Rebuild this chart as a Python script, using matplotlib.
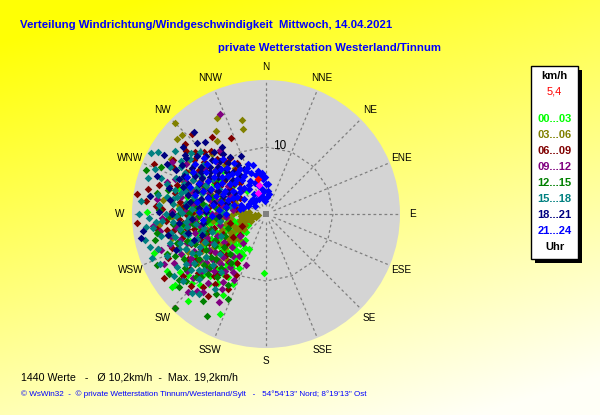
import numpy as np
import matplotlib
matplotlib.use('Agg')
import matplotlib.pyplot as plt
from matplotlib.patches import Rectangle

W, H = 600, 415

# --- data: (direction deg, speed km/h) per hour group ---
h00 = [(271,17.8),(251,17.7),(240,17.1),(232,17.8),(222,17.5),(208,13.7),(182,8.8),(213,8.7),
       (206,5.8),(213,6.8),(205,16.4),(232,17.3),
       (210,7.5),(215,8),(220,7),(225,6.5),(230,6),(235,5.5),(240,5),(245,4.5),(250,4),(255,4.5),
       (260,5),(265,5.5),(270,6),(218,9.5),(224,10),(230,9),(236,8.5),(242,8),(248,7.5),(254,7),
       (260,7.5),(266,8),(272,8.5),(278,9),(284,8),(290,7),(296,6),(228,11.5),(234,11),(240,10.5),
       (246,10),(252,9.5),(258,10),(264,10.5),(270,11),(276,11.5),(282,12),(288,11),(294,10),
       (300,9),(226,12.8),(238,12.5),(250,12),(262,12.5),(274,13),(286,13.5),(244,14),(256,14.5),
       (268,14.5),(280,15),(232,14.8),(216,11),(222,12.5),(212,9.5),(227,4),(238,3.2),(250,3),
       (262,3.5),(274,4.5),(286,5),(300,5.5),(310,6.5),(305,8.5),(315,9),(320,4.5),(236,15.5),
       (248,16),(260,16.5),
       (212,6),(216,7),(220,8),(224,9),(228,10),(232,7),(236,8),(240,9),(244,6),(248,6.5),
       (252,8),(256,9.5),(260,8.5),(264,7),(218,5),(226,5.5),(234,4.5),(242,5.5),(250,5),(258,6),
       (222,11),(230,8.5),(238,10),(246,9),(254,10.5),(262,9.5),(214,9),(228,7),(236,6),
       (244,10.5),(252,6.5),(260,10),(266,6.5),(270,9),(275,10),
       (207,9),(211,11),(215,12.5),(219,13.5),(223,14.5),(209,7),(217,10),(225,8),(229,13),
       (233,12),(221,6),(205,11.5),(227,15)]
h03 = [(315,19.3),(333,16.1),(346,14.5),(345,13.1),(329,14.4),(313,17.2),(310,17.4),(326,13.2),
       (326,8.3),(300,16.4),(318,12),(305,14),(297,11),
       (262,1.2),(258,2),(255,2.8),(250,3.5),(246,4.3),(243,5),(240,5.8),(237,6.5),(233,7.3),
       (265,1.6),(268,2.4),(272,3.2),(260,3),(254,4),(248,5),(244,6),(240,7),(236,8),(275,4),
       (270,5),(262,5.5),(256,6.2),(250,7),(246,7.8),(242,8.5),(238,9.2),(232,9.5),(280,5),
       (285,6.5),(278,7),(270,7.5),(262,8),(256,9),(250,9.5),(245,10.5),(240,11),(230,8),(226,7),
       (222,9),(280,10),(272,10.5),(266,11),(258,12),(250,12.5),(290,8.5),(295,7.5),(285,12),
       (276,13),(268,14),(300,10),(265,6.8),(253,5.5),(247,2.5),(241,3.5),
       (235,4),(239,4.7),(228,5.5),(232,6.2),(252,1.5),(258,3.8),(266,3.8),(276,2.5),(282,3.5),
       (288,4.5),(294,5),(225,10),(229,11.5),(234,12.5),(244,13),(256,14.5),(264,16),(278,15.5),
       (292,13.5),(305,11.5),(312,10),(320,9.5),(300,13)]
h06 = [(317,16.3),(311,16),(308,15.2),(330,8.8),(294,18.3),(279,19.5),(282,18),(266,19.3),
       (238,17.9),(221,14.4),(206,10.1),(219,11.5),(224,19.5),(335,12.5),(325,14),
       (230,9),(236,10),(242,11),(248,12),(254,13),(260,14),(266,15),(272,14),(278,13),(284,12),
       (290,11),(296,10),(302,9),(308,8),(314,7),(320,6),(235,6),(245,7),(255,8),(265,9),(275,10),
       (285,9),(295,8),(305,6.5),(315,5),(240,13.5),(250,15),(262,16.5),(274,16.5),(286,15),
       (298,13.5),(310,12),(322,10),(228,12),(234,14),(246,16),(258,11),(270,12),(282,7),
       (292,5.5),(302,4.5),(312,9.5),(318,11),(224,8.5),(232,5),(244,4),(256,5.5),(268,6),
       (280,4.5),(288,14),(300,16),(306,11),(226,15.5),(216,13),(252,17),(276,18),(264,12.5),
       (241,8.5),
       (243,9.5),(249,10.5),(253,9),(259,12),(263,10.5),(267,13),(271,11),(275,12.5),(279,11),
       (283,14),(287,12.5),(291,13),(295,12),(299,11),(303,12),(307,13.5),(311,14),(315,13),
       (319,12.5),(323,11.5),(327,10),(297,15.5),(285,16.5),(273,15.5),(261,15),(249,14),
       (237,12.5),(229,10.5),(233,7.5),(261,7),(277,8.5),(289,7),(301,8),(313,6.5),(325,8),
       (207,12.5),(211,8.5),(215,15),(220,12),(225,11),(229,13.5),(233,15.5),(213,11),(218,9)]
h09 = [(335,16.4),(324,11.8),(201,8.2),(216,10.5),(218,5.5),(212,12),(208,14.8),(220,13.5),
       (225,9),(230,10.5),(235,12),(240,13),(245,14),(250,12.5),(255,11),(260,10),(265,9),
       (270,8),(275,7),(280,6.5),(285,7.5),(290,9),(295,10.5),(300,12),(222,11.5),(228,13),
       (234,14.5),(242,15.5),(252,15),(262,13.5),(272,12),(282,11),(292,13),(302,14),(226,7),
       (236,7.5),(246,8),(256,7),(266,6),(276,5),(286,5),(296,6),(306,7),(316,8),(238,10),
       (248,9.5),(258,13),(268,15.5),(278,16.5),(288,15.5),(310,10),(320,9),(232,16),(244,17),
       (217,9),(222,15.5),(213,7.5),(230,5),(264,17),
       (231,11.5),(237,13.5),(243,12),(249,11),(253,13.5),(257,14.5),(263,11.5),(267,10.5),
       (273,9.5),(277,11),(281,13),(287,11.5),(293,10),(297,8),(303,9.5),(307,11.5),(313,12.5),
       (317,10.5),(283,8.5),(271,14),(261,16),(251,16.5),(227,10),(241,9),(255,8.5),(269,7.5),
       (291,14.5),(299,16),
       (206,11),(210,13),(214,9.5),(218,8),(222,10),(226,12),(229,14.5),(233,9.5),(210,10),
       (219,15),(225,16.5)]
h12 = [(294,17.1),(245,18),(233,16.3),(204,13.9),(224,19.5),(290,19),(210,17.5),
       (228,10),(234,11),(240,12),(246,13),(252,14),(258,15),(264,14),(270,13),(276,12),(282,11),
       (288,10),(294,9),(232,8),(238,9),(244,10),(250,11),(256,12),(262,11),(268,10),(274,9),
       (280,8),(286,7),(226,13.5),(236,14.5),(248,16),(260,16.5),(272,16),(284,15),(296,13.5),
       (300,11),(306,9),(312,8),(242,7),(254,8.5),(266,7.5),(278,6),(290,12.5),(230,15.5),
       (218,12),(222,8),(250,6),(262,9),(238,17),
       (231,12),(235,13),(241,14),(247,11.5),(251,12.5),(255,10),(259,13),(263,12.5),(267,11),
       (271,11.5),(275,10.5),(279,9.5),(283,10),(287,8.5),(291,11),(295,10),(299,12.5),(243,8.5),
       (253,9.5),(265,8.5),(277,7.5),(239,10.5),(227,11.5),(245,15),(257,17),(269,14.5),(281,16.5),
       (208,12),(212,14),(216,16),(220,10.5),(224,12.5),(228,14),(232,10.5),(236,12),(215,9),
       (230,17)]
h15 = [(298,19.4),(300,18.6),(313,13.5),(287,18.4),(280,16.4),(254,18),(249,18.3),(223,16.2),
       (270,19),(276,18.7),(292,17.8),(305,16.5),(309,14.5),
       (245,10),(250,11),(255,12),(260,13),(265,14),(270,15),(275,16),(280,15),(285,14),(290,13),
       (295,12),(300,11),(248,14),(253,15),(258,16),(263,17),(268,17.5),(273,13),(278,12),
       (283,11),(288,10),(293,9),(298,8),(242,12.5),(247,16),(252,8.5),(257,9.5),(262,10.5),
       (267,11.5),(272,10),(277,9),(282,8),(287,15.5),(292,14.5),(297,13.5),(302,15),(238,14),
       (234,11),(240,9),(244,7.5),(256,14),(266,15.5),(276,14),(286,12.5),(296,16),(230,13),
       (236,16.5),(258,18.5),(262,7),(272,6.5),(282,5.5),(303,9.5),(308,12),(245,17.5),
       (251,13.5),(261,12),(271,12.5),(281,13.5),(291,11),(226,11),
       (243,11),(246,13),(249,12),(254,10),(256,12.5),(259,14.5),(264,12),(266,16.5),(269,13.5),
       (274,11),(279,14),(284,13),(289,12),(294,13.5),(299,14.5),(304,13),(301,11.5),(289,16.5),
       (279,17.5),(264,18),(252,17),(239,15.5),(233,14),(228,12.5),(296,10),(306,14),
       (214,13.5),(220,15.5),(226,14),(231,16),(236,13),(240,11.5),(218,11),(229,9)]
h18 = [(319,16.3),(316,14.8),(306,15),(320,14.1),(328,10),(337,9.4),(279,17.5),(289,17.2),
       (259,19),(262,18.5),(309,16),(300,17.5),
       (282,8),(286,9),(290,10),(294,11),(298,12),(302,13),(306,12),(310,11),(314,10),(318,9),
       (322,8),(326,7),(284,12),(288,13),(292,14),(296,15),(300,14.5),(304,10),(308,9),(312,8),
       (316,7),(320,12),(324,11),(280,10.5),(276,12),(272,9),(268,7),(278,14.5),(296,8),
       (300,6.5),(304,5.5),(286,6),(292,7),(310,13.5),(314,12.5),(330,8.5),(334,7.5),(266,11),
       (270,14),(262,9.5),(256,12),(252,10),(248,14.5),
       (283,10),(287,11),(291,12.5),(295,13.5),(299,11),(303,11.5),(307,10.5),(311,9.5),
       (315,11.5),(319,10.5),(323,9.5),(327,12),(305,14.5),(297,16.5),(285,15),(275,10),
       (279,11.5),(293,9),(301,8.5),(309,7),(317,8.5),(264,13),(258,15),(250,11.5),(271,16)]
h21 = [(300,3),(305,4),(310,5),(315,5.5),(320,5),(325,4.5),(330,5),(335,5.5),(340,5),(345,4.5),
       (350,4),(355,3.5),(300,5),(305,6),(310,7),(315,6.5),(320,6.8),(325,6.2),(330,6.5),(335,7),
       (340,6.5),(345,6),(350,5.8),(355,5.2),(290,4),(295,5.5),(300,7),(305,8),(310,8.5),(315,8),
       (320,7.8),(325,7.5),(330,7.8),(337,7.4),(285,5),(290,6),(295,7),(300,8.5),(305,9.5),
       (310,10),(315,9.5),(320,9),(285,7),(290,8),(295,9),(300,10),(305,11),(310,11.5),(295,11),
       (290,10),(285,9),(280,8),(280,6),(275,7),(275,9),(280,10.5),(285,11),(290,12),(300,12.5),
       (305,13),(312,12.5),(295,13),(310,3),(320,3),(330,3.5),(340,3),(350,2.5),(355,2),(5,2.5),
       (10,3),(5,3.5),(360,4.5),(345,3),(335,2.5),(325,2.5),(315,2.5),(305,2),(295,3),(285,3.5),
       (280,4),(350,6.5),(355,6.2),(358,5.5),(4,4.5),(340,8),(345,7.5),(328,9),(322,10.5),
       (316,11),(270,6),(268,8),(272,10),(265,9.5)]
recent = [(346,4.4),(339,3.4)]
current = (348, 5.4)

groups = ['00...03','03...06','06...09','09...12','12...15','15...18','18...21','21...24']
colors = ['#00ff00','#808000','#800000','#800080','#008000','#008080','#000080','#0000ff']
series = [h00, h03, h06, h09, h12, h15, h18, h21]
dirs16 = ['N','NNE','NE','ENE','E','ESE','SE','SSE','S','SSW','SW','WSW','W','WNW','NW','NNW']

n_values = 1440
mean_speed = '10,2'
max_speed = '19,2'
cur_speed = '5,4'

def fx(x):
    return x / W

def fy(y):
    return 1 - y / H

fig = plt.figure(figsize=(6, 4.15), dpi=100)
plt.rcParams['font.family'] = ['Liberation Sans', 'DejaVu Sans']

# yellow gradient background
bg = fig.add_axes([0, 0, 1, 1])
yy, xx = np.mgrid[0:1:200j, 0:1:300j]
t = np.clip(0.8 * yy + 0.35 * xx - 0.08, 0, 1)
img = np.dstack([np.ones_like(t), np.ones_like(t), 0.02 + 0.95 * t])
bg.imshow(img, extent=[0, 1, 0, 1], aspect='auto', origin='upper')
bg.set_xlim(0, 1)
bg.set_ylim(0, 1)
bg.axis('off')

# polar chart
cx, cy, rad = 266, 214, 134
ax = fig.add_axes([fx(cx - rad), fy(cy + rad), 2 * rad / W, 2 * rad / H], projection='polar')
ax.set_theta_zero_location('N')
ax.set_theta_direction(-1)
ax.set_facecolor('#d4d4d4')
ax.set_ylim(0, 20)
ax.set_xticks([])
ax.set_yticks([])
ax.grid(False)
ax.spines['polar'].set_visible(False)

dash = (0, (2.2, 2.2))
angs = np.radians(np.arange(16) * 22.5)
for a in angs:
    ax.plot([a, a], [1.2, 20], color='#7f7f7f', lw=0.9, ls=dash, zorder=1)
# 16-gon at 10 km/h
px, py = [], []
for k in range(16):
    a0, a1 = angs[k], angs[(k + 1) % 16]
    s = np.linspace(0, 1, 20)
    px.extend(10 * np.sin(a0) * (1 - s) + 10 * np.sin(a1) * s)
    py.extend(10 * np.cos(a0) * (1 - s) + 10 * np.cos(a1) * s)
px, py = np.array(px), np.array(py)
ax.plot(np.arctan2(px, py), np.hypot(px, py), color='#7f7f7f', lw=0.9, ls=dash, zorder=1)
ax.text(np.radians(6), 10.2, '10', fontsize=8.5, ha='left', va='center', zorder=2)

for pts, col in zip(series, colors):
    d = np.radians([p[0] for p in pts])
    v = [p[1] for p in pts]
    ax.scatter(d, v, marker='D', s=15, color=col, linewidths=0, zorder=3)
ax.scatter(np.radians([p[0] for p in recent]), [p[1] for p in recent], marker='D', s=15,
           color='#ff00ff', linewidths=0, zorder=4)
ax.scatter(np.radians(current[0]), current[1], marker='D', s=15, color='#ff0000',
           linewidths=0, zorder=5)
ax.scatter(0, 0, marker='s', s=22, color='#808080', linewidths=0, zorder=4)

for i, lab in enumerate(dirs16):
    ax.text(angs[i], 21.9, lab, ha='center', va='center', fontsize=7.2, clip_on=False)

# titles
blue = '#0000ff'
fig.text(fx(20), fy(25), 'Verteilung Windrichtung/Windgeschwindigkeit  Mittwoch, 14.04.2021',
         color=blue, fontsize=8.2, fontweight='bold', ha='left', va='center')
fig.text(fx(218), fy(48), 'private Wetterstation Westerland/Tinnum',
         color=blue, fontsize=8.2, fontweight='bold', ha='left', va='center')

# legend box with shadow
lx0, ly0, lx1, ly1 = 531, 66, 578, 259
fig.patches.append(Rectangle((fx(lx0 + 4), fy(ly1 + 4)), (lx1 - lx0) / W, (ly1 - ly0) / H,
                             transform=fig.transFigure, facecolor='black', edgecolor='none',
                             zorder=2))
fig.patches.append(Rectangle((fx(lx0), fy(ly1)), (lx1 - lx0) / W, (ly1 - ly0) / H,
                             transform=fig.transFigure, facecolor='white', edgecolor='black',
                             lw=1, zorder=3))
lxc = (lx0 + lx1) / 2
fig.text(fx(lxc), fy(76), 'km/h', fontsize=8, fontweight='bold', ha='center', va='center',
         zorder=4)
fig.text(fx(lxc), fy(92), cur_speed, fontsize=8, color='#ff0000', ha='center', va='center',
         zorder=4)
for i, (g, col) in enumerate(zip(groups, colors)):
    fig.text(fx(lxc), fy(119 + i * 16), g, fontsize=8, fontweight='bold', color=col,
             ha='center', va='center', zorder=4)
fig.text(fx(lxc), fy(247), 'Uhr', fontsize=8, fontweight='bold', ha='center', va='center',
         zorder=4)

# footer
fig.text(fx(21), fy(377), f'{n_values} Werte   -   Ø {mean_speed}km/h  -  Max. {max_speed}km/h',
         fontsize=7.7, ha='left', va='center')
fig.text(fx(21), fy(394), '© WsWin32  -  © private Wetterstation Tinnum/Westerland/Sylt   -   '
         '54°54\'13" Nord; 8°19\'13" Ost', fontsize=5.9, color=blue, ha='left', va='center')

fig.savefig('out.png', dpi=100)
